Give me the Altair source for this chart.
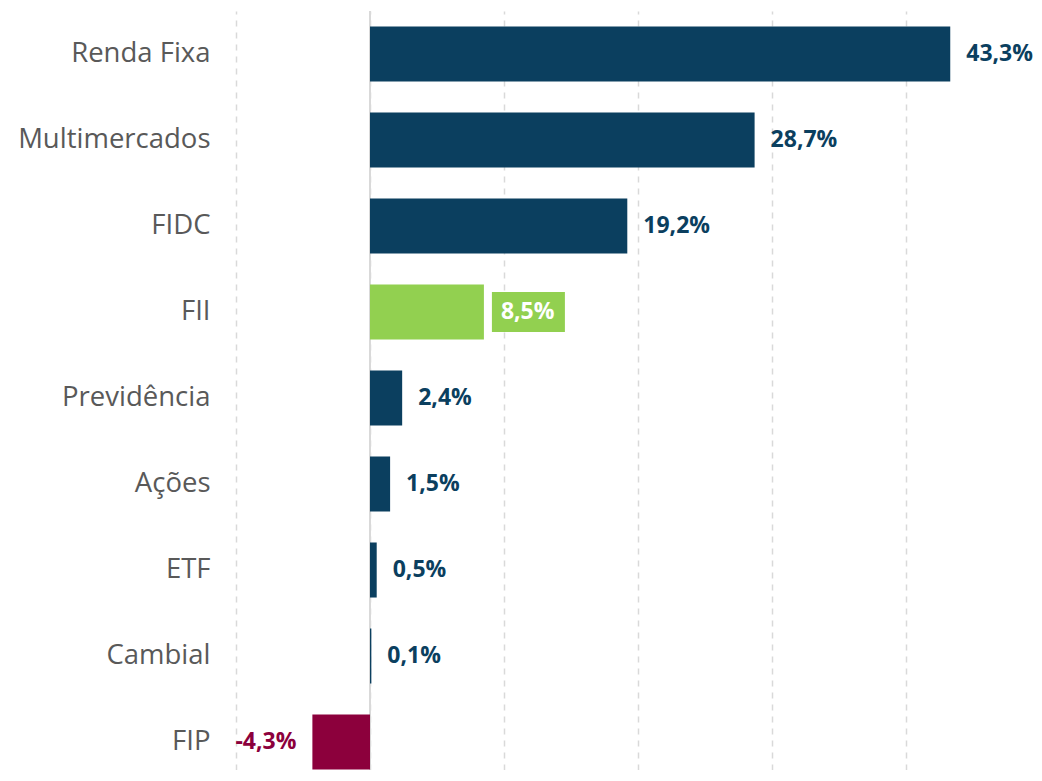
import altair as alt
import pandas as pd

categories = ["Renda Fixa", "Multimercados", "FIDC", "FII", "Previdência", "Ações", "ETF", "Cambial", "FIP"]
values = [43.3, 28.7, 19.2, 8.5, 2.4, 1.5, 0.5, 0.1, -4.3]
labels = ["43,3%", "28,7%", "19,2%", "8,5%", "2,4%", "1,5%", "0,5%", "0,1%", "-4,3%"]
groups = ["base", "base", "base", "destaque", "base", "base", "base", "base", "negativo"]
x_ticks = [-10, 0, 10, 20, 30, 40]

df = pd.DataFrame({"cat": categories, "val": values, "lab": labels, "grp": groups})

FONT = "Open Sans"
BLUE = "#0b3f5f"
GREEN = "#92d050"
RED = "#8c003c"
color_scale = alt.Scale(domain=["base", "destaque", "negativo"], range=[BLUE, GREEN, RED])

x = alt.X("val:Q", scale=alt.Scale(domain=[-10, 49.55], nice=False, zero=False),
          axis=alt.Axis(values=x_ticks, grid=True, gridDash=[6, 6], gridColor="#d9d9d9", gridWidth=1.5,
                        labels=False, ticks=False, domain=False, title=None))
y = alt.Y("cat:N", sort=categories,
          scale=alt.Scale(paddingInner=0.36, paddingOuter=0.093, align=0.97),
          axis=alt.Axis(title=None, ticks=False, domain=False, labelFont=FONT, labelFontSize=27.5,
                        labelColor="#595959", labelPadding=26, labelLimit=300))
y_plain = alt.Y("cat:N", sort=categories)

zero = alt.Chart(df).mark_rule(color="#d9d9d9", strokeWidth=2).encode(x=alt.datum(0))

bars = alt.Chart(df).mark_bar().encode(
    x=x, x2=alt.datum(0), y=y,
    color=alt.Color("grp:N", scale=color_scale, legend=None),
)

pos = df[df["grp"] == "base"]
pos_text = alt.Chart(pos).mark_text(align="left", baseline="middle", dx=16, font=FONT, fontSize=23,
                                    fontWeight="bold", color=BLUE).encode(
    x="val:Q", y=y_plain, text="lab:N")

fii = df[df["grp"] == "destaque"]
fii_box = alt.Chart(fii).mark_bar(color=GREEN, height=40, xOffset=8, x2Offset=81).encode(
    x="val:Q", x2="val:Q", y=y_plain)
fii_text = alt.Chart(fii).mark_text(align="left", baseline="middle", dx=17, font=FONT, fontSize=23,
                                    fontWeight="bold", color="white").encode(
    x="val:Q", y=y_plain, text="lab:N")

neg = df[df["grp"] == "negativo"]
neg_text = alt.Chart(neg).mark_text(align="right", baseline="middle", dx=-16, font=FONT, fontSize=23,
                                    fontWeight="bold", color=RED).encode(
    x="val:Q", y=y_plain, text="lab:N")

chart = alt.layer(zero, bars, pos_text, fii_box, fii_text, neg_text).properties(
    width=798, height=759,
    autosize=alt.AutoSizeParams(type="none"),
    padding={"left": 228, "top": 3, "right": 0, "bottom": 0},
).configure_view(stroke=None)

chart.save("out.html", embed_options={"renderer": "svg", "actions": False})
